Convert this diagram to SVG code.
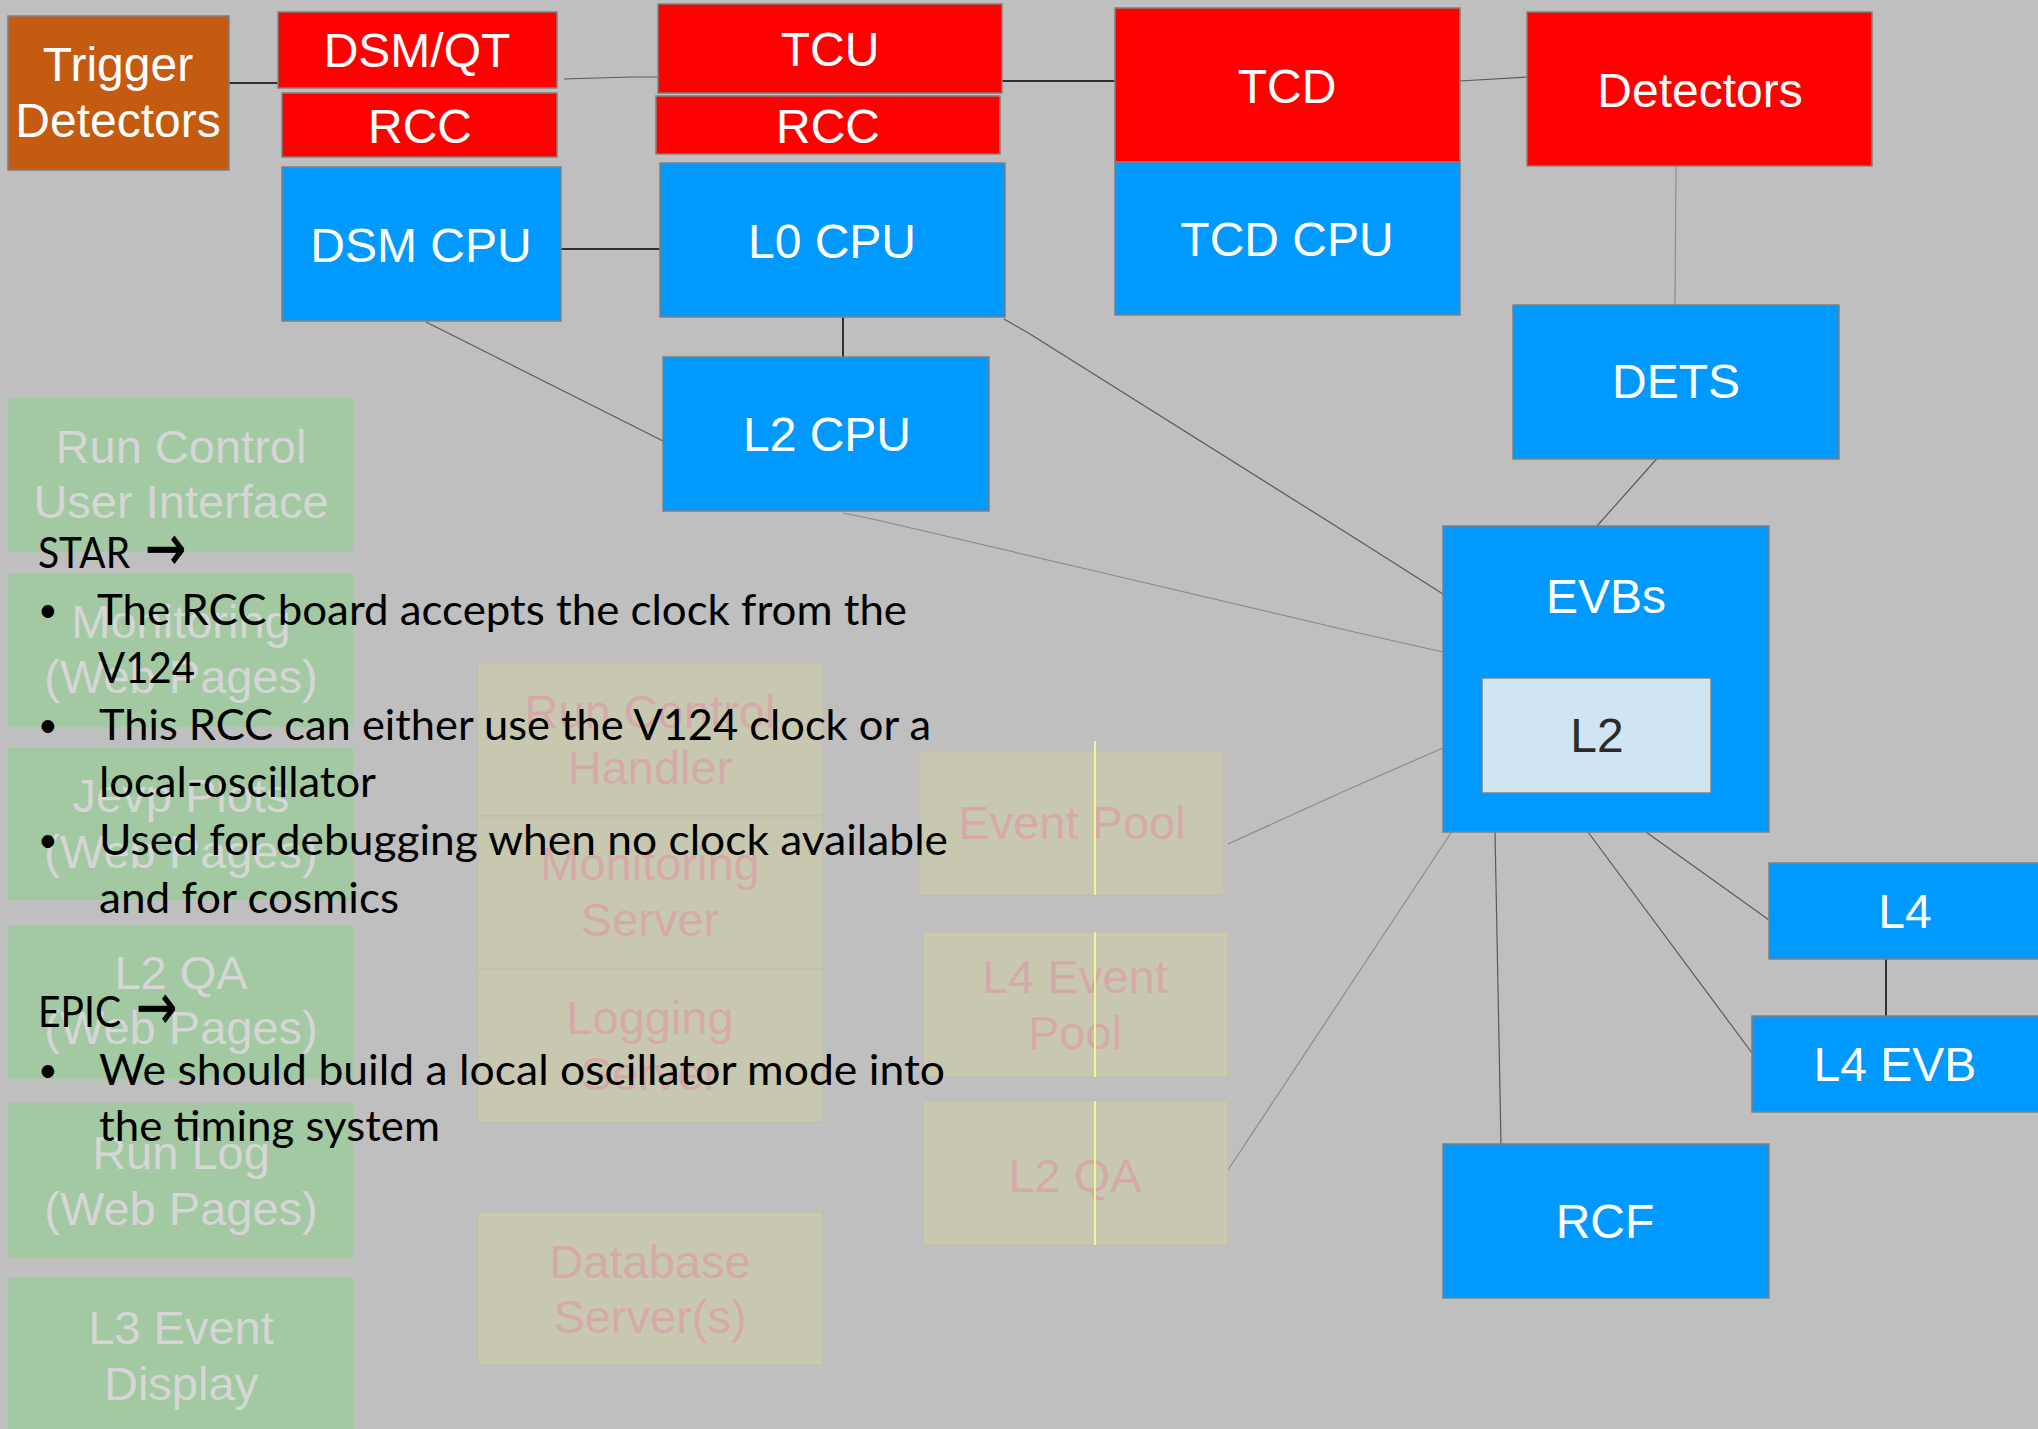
<svg xmlns="http://www.w3.org/2000/svg" width="2038" height="1429" viewBox="0 0 2038 1429">
  <style>
    .bg { fill: #BFBFBF; }
    .red { fill: #FF0000; stroke: #808080; stroke-width: 1.5; }
    .blue { fill: #0099FF; stroke: #808080; stroke-width: 1.5; }
    .orange { fill: #C55A11; stroke: #808080; stroke-width: 1.5; }
    .pale { fill: #CFE5F4; stroke: #808080; stroke-width: 1.5; }
    .green { fill: #A2C9A2; }
    .tan { fill: #C8C8B1; stroke: #BDBDAA; stroke-width: 1; }
    .lbl { font-family: "Liberation Sans", Arial, sans-serif; font-size: 48px; fill: #FFFFFF; text-anchor: middle; }
    .dark { fill: #2B2B2B; }
    .gtxt { font-family: "Liberation Sans", Arial, sans-serif; font-size: 47px; fill: #D6D6D6; text-anchor: middle; }
    .ttxt { font-family: "Liberation Sans", Arial, sans-serif; font-size: 47px; fill: #D6A9A9; text-anchor: middle; }
    .note { font-family: Lato, "Open Sans", sans-serif; font-size: 43px; fill: #000000; }
    .bul { font-size: 34px; }
    .arw { font-family: "DejaVu Sans", sans-serif; font-size: 64px; stroke: #000000; stroke-width: 0.8; }
    .blk { stroke: #000000; stroke-width: 1.5; fill: none; }
    .gry { stroke: #5A5A5A; stroke-width: 1.2; fill: none; }
    .lgt { stroke: #8C8C8C; stroke-width: 1.2; fill: none; }
    .yel { stroke: #F3F39A; stroke-width: 2; }
  </style>

  <rect class="bg" x="0" y="0" width="2038" height="1429"/>

  <!-- connectors -->
  <g id="connectors">
    <line class="blk" x1="229" y1="83" x2="279" y2="83"/>
    <polyline class="gry" points="564,79 631,77 658,77"/>
    <line class="blk" x1="1002" y1="81" x2="1115" y2="81"/>
    <polyline class="gry" points="1460,81 1527,77"/>
    <line class="blk" x1="561" y1="249" x2="660" y2="249"/>
    <line class="blk" x1="843" y1="317" x2="843" y2="357"/>
    <line class="gry" x1="426" y1="322" x2="663" y2="441"/>
    <polyline class="gry" points="1004,319 1030,334 1350,535 1443,594"/>
    <polyline class="lgt" points="843,513 877,520 1095,571 1350,631 1443,652"/>
    <line class="lgt" x1="1676" y1="166" x2="1675" y2="305"/>
    <line class="gry" x1="1661" y1="454" x2="1597" y2="526"/>
    <polyline class="lgt" points="1228,844 1349,789 1443,748"/>
    <polyline class="lgt" points="1228,1170 1349,987 1482,786"/>
    <polyline class="gry" points="1495,832 1501,1144"/>
    <line class="gry" x1="1588" y1="832" x2="1752" y2="1053"/>
    <line class="gry" x1="1646" y1="832" x2="1769" y2="920"/>
    <line class="blk" x1="1886" y1="959" x2="1886" y2="1016"/>
  </g>

  <!-- faded online-system boxes (green) -->
  <g id="run-control-ui"><rect class="green" x="8" y="398" width="345" height="154"/>
    <text class="gtxt" x="181" y="463">Run Control</text><text class="gtxt" x="181" y="518">User Interface</text></g>
  <g id="monitoring-web"><rect class="green" x="8" y="573" width="345" height="154"/>
    <text class="gtxt" x="181" y="638">Monitoring</text><text class="gtxt" x="181" y="693">(Web Pages)</text></g>
  <g id="jevp-plots"><rect class="green" x="8" y="748" width="345" height="152"/>
    <text class="gtxt" x="181" y="812">Jevp Plots</text><text class="gtxt" x="181" y="868">(Web Pages)</text></g>
  <g id="l2qa-web"><rect class="green" x="8" y="925" width="345" height="154"/>
    <text class="gtxt" x="181" y="989">L2 QA</text><text class="gtxt" x="181" y="1044">(Web Pages)</text></g>
  <g id="run-log"><rect class="green" x="8" y="1103" width="345" height="154"/>
    <text class="gtxt" x="181" y="1169">Run Log</text><text class="gtxt" x="181" y="1225">(Web Pages)</text></g>
  <g id="l3-display"><rect class="green" x="8" y="1277" width="345" height="160"/>
    <text class="gtxt" x="181" y="1344">L3 Event</text><text class="gtxt" x="181" y="1400">Display</text></g>

  <!-- faded server boxes (tan) -->
  <g id="run-control-handler"><rect class="tan" x="478" y="663" width="345" height="153"/>
    <text class="ttxt" x="650" y="728">Run Control</text><text class="ttxt" x="650" y="784">Handler</text></g>
  <g id="monitoring-server"><rect class="tan" x="478" y="816" width="345" height="153"/>
    <text class="ttxt" x="650" y="880">Monitoring</text><text class="ttxt" x="650" y="936">Server</text></g>
  <g id="logging-server"><rect class="tan" x="478" y="969" width="345" height="153"/>
    <text class="ttxt" x="650" y="1034">Logging</text><text class="ttxt" x="650" y="1090">Server</text></g>
  <g id="database-server"><rect class="tan" x="478" y="1212" width="345" height="153"/>
    <text class="ttxt" x="650" y="1278">Database</text><text class="ttxt" x="650" y="1333">Server(s)</text></g>
  <g id="event-pool"><rect class="tan" x="919" y="751" width="305" height="144"/>
    <text class="ttxt" x="1072" y="839">Event Pool</text>
    <line class="yel" x1="1095" y1="741" x2="1095" y2="895"/></g>
  <g id="l4-event-pool"><rect class="tan" x="923" y="932" width="305" height="145"/>
    <text class="ttxt" x="1075" y="993">L4 Event</text><text class="ttxt" x="1075" y="1049">Pool</text>
    <line class="yel" x1="1095" y1="932" x2="1095" y2="1077"/></g>
  <g id="l2-qa"><rect class="tan" x="923" y="1101" width="305" height="144"/>
    <text class="ttxt" x="1075" y="1192">L2 QA</text>
    <line class="yel" x1="1095" y1="1101" x2="1095" y2="1245"/></g>

  <!-- trigger and DAQ nodes -->
  <g id="trigger-detectors"><rect class="orange" x="8" y="16" width="221" height="154"/>
    <text class="lbl" x="118" y="81">Trigger</text><text class="lbl" x="118" y="137">Detectors</text></g>
  <g id="dsm-qt"><rect class="red" x="278" y="12" width="279" height="76"/>
    <text class="lbl" x="417" y="67">DSM/QT</text></g>
  <g id="rcc-dsm"><rect class="red" x="282" y="93" width="275" height="64"/>
    <text class="lbl" x="420" y="143">RCC</text></g>
  <g id="dsm-cpu"><rect class="blue" x="282" y="167" width="279" height="154"/>
    <text class="lbl" x="421" y="262">DSM CPU</text></g>
  <g id="tcu"><rect class="red" x="658" y="4" width="344" height="89"/>
    <text class="lbl" x="830" y="66">TCU</text></g>
  <g id="rcc-tcu"><rect class="red" x="656" y="96" width="344" height="58"/>
    <text class="lbl" x="828" y="143">RCC</text></g>
  <g id="l0-cpu"><rect class="blue" x="660" y="163" width="345" height="154"/>
    <text class="lbl" x="832" y="258">L0 CPU</text></g>
  <g id="l2-cpu"><rect class="blue" x="663" y="357" width="326" height="154"/>
    <text class="lbl" x="827" y="451">L2 CPU</text></g>
  <g id="tcd"><rect class="red" x="1115" y="8" width="345" height="154"/>
    <text class="lbl" x="1287" y="103">TCD</text></g>
  <g id="tcd-cpu"><rect class="blue" x="1115" y="162" width="345" height="153"/>
    <text class="lbl" x="1287" y="256">TCD CPU</text></g>
  <g id="detectors"><rect class="red" x="1527" y="12" width="345" height="154"/>
    <text class="lbl" x="1700" y="107">Detectors</text></g>
  <g id="dets"><rect class="blue" x="1513" y="305" width="326" height="154"/>
    <text class="lbl" x="1676" y="398">DETS</text></g>
  <g id="evbs"><rect class="blue" x="1443" y="526" width="326" height="306"/>
    <text class="lbl" x="1606" y="613">EVBs</text>
    <rect class="pale" x="1482" y="678" width="229" height="115"/>
    <text class="lbl dark" x="1597" y="752">L2</text></g>
  <g id="l4"><rect class="blue" x="1769" y="863" width="280" height="96"/>
    <text class="lbl" x="1905" y="928">L4</text></g>
  <g id="l4-evb"><rect class="blue" x="1752" y="1016" width="297" height="96"/>
    <text class="lbl" x="1895" y="1081">L4 EVB</text></g>
  <g id="rcf"><rect class="blue" x="1443" y="1144" width="326" height="154"/>
    <text class="lbl" x="1605" y="1238">RCF</text></g>

  <!-- notes -->
  <g id="notes" class="note">
    <text x="38" y="568" textLength="92" lengthAdjust="spacingAndGlyphs">STAR</text>
    <text class="arw" x="145" y="570" textLength="41" lengthAdjust="spacingAndGlyphs">→</text>
    <text class="bul" x="38" y="622">•</text>
    <text x="97" y="625" textLength="810" lengthAdjust="spacingAndGlyphs">The RCC board accepts the clock from the</text>
    <text x="98" y="683" textLength="97" lengthAdjust="spacingAndGlyphs">V124</text>
    <text class="bul" x="38" y="737">•</text>
    <text x="99" y="740" textLength="832" lengthAdjust="spacingAndGlyphs">This RCC can either use the V124 clock or a</text>
    <text x="99" y="797" textLength="277" lengthAdjust="spacingAndGlyphs">local-oscillator</text>
    <text class="bul" x="38" y="852">•</text>
    <text x="99" y="855" textLength="849" lengthAdjust="spacingAndGlyphs">Used for debugging when no clock available</text>
    <text x="99" y="913" textLength="300" lengthAdjust="spacingAndGlyphs">and for cosmics</text>
    <text x="38" y="1027" textLength="83" lengthAdjust="spacingAndGlyphs">EPIC</text>
    <text class="arw" x="136" y="1029" textLength="41" lengthAdjust="spacingAndGlyphs">→</text>
    <text class="bul" x="38" y="1082">•</text>
    <text x="99" y="1085" textLength="846" lengthAdjust="spacingAndGlyphs">We should build a local oscillator mode into</text>
    <text x="99" y="1141" textLength="341" lengthAdjust="spacingAndGlyphs">the timing system</text>
  </g>
</svg>
